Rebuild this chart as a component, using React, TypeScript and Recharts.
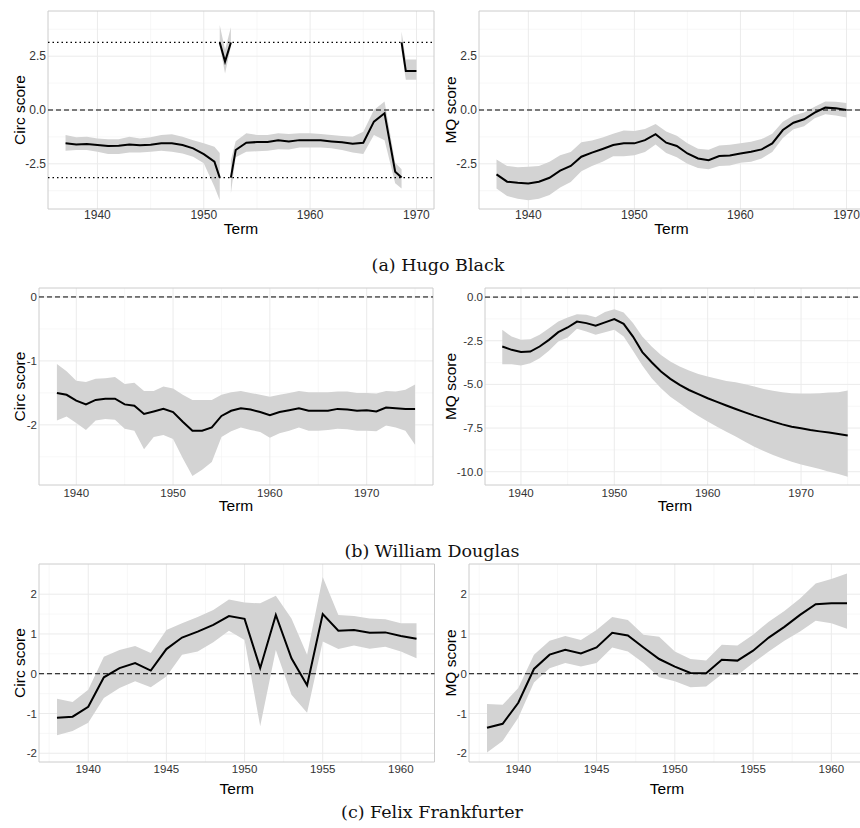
import React from "react";
import {
  ComposedChart,
  Area,
  Line,
  XAxis,
  YAxis,
  CartesianGrid,
  ReferenceLine,
  ReferenceArea,
} from "recharts";

// (a) Hugo Black, circular score. null rows break the path where it wraps at +/- pi
const blackCircTerm = [
  1937, 1938, 1939, 1940, 1941, 1942, 1943, 1944, 1945, 1946, 1947, 1948, 1949, 1950, 1951,
  1951.5, 1951.5, 1951.5, 1952, 1952.55, 1952.55, 1952.55,
  1953, 1954, 1955, 1956, 1957, 1958, 1959, 1960, 1961, 1962, 1963, 1964, 1965, 1966, 1967, 1968,
  1968.6, 1968.6, 1968.6, 1969, 1970,
];
const blackCircEst = [
  -1.55, -1.6, -1.58, -1.63, -1.67, -1.66, -1.6, -1.64, -1.61, -1.55, -1.55, -1.63, -1.78, -2.05, -2.4,
  -3.14, null, 3.14, 2.25, 3.14, null, -3.14,
  -1.86, -1.52, -1.49, -1.49, -1.41, -1.46, -1.4, -1.4, -1.41, -1.46, -1.5, -1.57, -1.52, -0.54, -0.15, -2.87,
  -3.14, null, 3.14, 1.81, 1.81,
];
const blackCircLo = [
  -1.89, -1.86, -1.86, -1.94, -2.05, -2.05, -1.98, -1.98, -1.94, -1.89, -1.94, -2.02, -2.17, -2.48, -3.57,
  -4.19, null, 3.0, 1.7, 2.95, null, -3.88,
  -2.2, -1.94, -1.92, -1.89, -1.82, -1.84, -1.74, -1.74, -1.74, -1.78, -1.86, -1.98, -2.05, -1.16, -1.4, -3.4,
  -3.65, null, 2.75, 1.4, 1.4,
];
const blackCircHi = [
  -1.16, -1.27, -1.24, -1.32, -1.36, -1.36, -1.24, -1.32, -1.27, -1.16, -1.13, -1.24, -1.4, -1.55, -1.71,
  -2.0, null, 3.95, 2.8, 3.85, null, -2.33,
  -1.45, -1.08, -1.16, -1.16, -1.08, -1.11, -1.08, -1.08, -1.11, -1.16, -1.21, -1.24, -1.01, 0.0, 0.39, -2.45,
  -2.75, null, 3.65, 2.35, 2.35,
];

// (a) Hugo Black, MQ score
const blackMqTerm = [
  1937, 1938, 1939, 1940, 1941, 1942, 1943, 1944, 1945, 1946, 1947, 1948, 1949, 1950, 1951, 1952, 1953,
  1954, 1955, 1956, 1957, 1958, 1959, 1960, 1961, 1962, 1963, 1964, 1965, 1966, 1967, 1968, 1969, 1970,
];
const blackMqEst = [
  -2.99, -3.33, -3.38, -3.41, -3.33, -3.15, -2.82, -2.6, -2.17, -1.98, -1.81, -1.63, -1.55, -1.55, -1.4, -1.12, -1.52,
  -1.67, -2.02, -2.25, -2.33, -2.14, -2.11, -2.02, -1.94, -1.83, -1.55, -0.93, -0.59, -0.43, -0.12, 0.11, 0.08, 0.0,
];
const blackMqLo = [
  -3.65, -4.0, -4.12, -4.19, -4.12, -3.95, -3.6, -3.35, -2.85, -2.6, -2.4, -2.15, -2.15, -2.1, -1.95, -1.6, -2.0,
  -2.2, -2.5, -2.7, -2.75, -2.6, -2.58, -2.45, -2.4, -2.25, -1.95, -1.3, -0.9, -0.75, -0.38, -0.2, -0.25, -0.35,
];
const blackMqHi = [
  -2.3, -2.6, -2.66, -2.64, -2.6, -2.4, -2.1, -1.95, -1.5, -1.42, -1.28, -1.1, -0.95, -0.98, -0.88, -0.65, -1.0,
  -1.2, -1.55, -1.8, -1.85, -1.65, -1.62, -1.55, -1.48, -1.35, -1.1, -0.55, -0.25, -0.12, 0.15, 0.4, 0.38, 0.32,
];

// (b) William Douglas
const douglasTerm = [
  1938, 1939, 1940, 1941, 1942, 1943, 1944, 1945, 1946, 1947, 1948, 1949, 1950, 1951, 1952, 1953, 1954, 1955, 1956,
  1957, 1958, 1959, 1960, 1961, 1962, 1963, 1964, 1965, 1966, 1967, 1968, 1969, 1970, 1971, 1972, 1973, 1974, 1975,
];
const douglasCircEst = [
  -1.5, -1.53, -1.62, -1.68, -1.61, -1.59, -1.59, -1.68, -1.7, -1.83, -1.79, -1.75, -1.8, -1.95, -2.09, -2.09, -2.04, -1.86, -1.78,
  -1.74, -1.76, -1.8, -1.85, -1.8, -1.77, -1.74, -1.78, -1.78, -1.78, -1.75, -1.76, -1.78, -1.77, -1.79, -1.73, -1.74, -1.75, -1.75,
];
const douglasCircLo = [
  -1.93, -1.87, -1.97, -2.08, -1.93, -1.91, -1.92, -2.06, -2.09, -2.38, -2.19, -2.16, -2.22, -2.52, -2.8, -2.7, -2.58, -2.19, -2.1,
  -2.04, -2.08, -2.11, -2.2, -2.13, -2.09, -2.04, -2.09, -2.09, -2.08, -2.06, -2.07, -2.09, -2.09, -2.1, -2.01, -2.04, -2.09, -2.31,
];
const douglasCircHi = [
  -1.05, -1.16, -1.31, -1.33, -1.28, -1.27, -1.25, -1.36, -1.34, -1.47, -1.47, -1.4, -1.43, -1.53, -1.61, -1.61, -1.61, -1.53, -1.49,
  -1.47, -1.5, -1.53, -1.56, -1.53, -1.5, -1.47, -1.49, -1.49, -1.49, -1.48, -1.48, -1.5, -1.5, -1.51, -1.47, -1.48, -1.45, -1.37,
];
const douglasMqEst = [
  -2.83, -3.02, -3.15, -3.12, -2.83, -2.45, -2.01, -1.74, -1.4, -1.49, -1.64, -1.45, -1.26, -1.53, -2.26, -3.15, -3.73, -4.26, -4.68,
  -5.03, -5.32, -5.56, -5.79, -6.0, -6.21, -6.41, -6.6, -6.79, -6.96, -7.13, -7.29, -7.42, -7.51, -7.61, -7.69, -7.76, -7.84, -7.92,
];
const douglasMqLo = [
  -3.84, -3.84, -3.92, -3.79, -3.5, -3.08, -2.54, -2.31, -1.82, -1.97, -2.16, -2.01, -1.87, -2.26, -3.08, -3.92, -4.65, -5.22, -5.7,
  -6.08, -6.46, -6.81, -7.13, -7.42, -7.71, -7.99, -8.28, -8.57, -8.81, -9.04, -9.24, -9.43, -9.58, -9.71, -9.85, -10.0, -10.13, -10.29,
];
const douglasMqHi = [
  -1.87, -2.26, -2.45, -2.41, -2.16, -1.78, -1.4, -1.17, -0.98, -1.01, -1.15, -0.86, -0.69, -0.88, -1.49, -2.26, -2.83, -3.31, -3.69,
  -3.98, -4.21, -4.4, -4.55, -4.68, -4.8, -4.88, -4.99, -5.12, -5.26, -5.37, -5.45, -5.5, -5.52, -5.52, -5.5, -5.47, -5.45, -5.35,
];

// (c) Felix Frankfurter
const frankTerm = [
  1938, 1939, 1940, 1941, 1942, 1943, 1944, 1945, 1946, 1947, 1948, 1949,
  1950, 1951, 1952, 1953, 1954, 1955, 1956, 1957, 1958, 1959, 1960, 1961,
];
const frankCircEst = [
  -1.11, -1.08, -0.83, -0.09, 0.14, 0.27, 0.08, 0.62, 0.91, 1.06, 1.23, 1.45,
  1.38, 0.14, 1.48, 0.39, -0.29, 1.5, 1.08, 1.1, 1.03, 1.04, 0.95, 0.88,
];
const frankCircLo = [
  -1.55, -1.44, -1.23, -0.61, -0.36, -0.19, -0.34, -0.07, 0.48, 0.56, 0.79, 1.08,
  0.85, -1.32, 0.6, -0.53, -0.98, 0.81, 0.62, 0.71, 0.63, 0.68, 0.56, 0.39,
];
const frankCircHi = [
  -0.63, -0.71, -0.4, 0.43, 0.6, 0.7, 0.52, 1.1, 1.27, 1.43, 1.6, 1.87,
  1.79, 1.77, 1.96, 1.39, 0.48, 2.43, 1.48, 1.45, 1.39, 1.37, 1.27, 1.27,
];
const frankMqEst = [
  -1.36, -1.26, -0.73, 0.12, 0.48, 0.6, 0.51, 0.66, 1.03, 0.96, 0.66, 0.37,
  0.18, 0.02, 0.01, 0.35, 0.33, 0.58, 0.91, 1.18, 1.48, 1.75, 1.77, 1.77,
];
const frankMqLo = [
  -1.98, -1.69, -1.11, -0.22, 0.14, 0.27, 0.18, 0.27, 0.66, 0.56, 0.27, -0.09,
  -0.19, -0.34, -0.32, -0.01, -0.04, 0.27, 0.56, 0.83, 1.06, 1.33, 1.27, 1.13,
];
const frankMqHi = [
  -0.76, -0.78, -0.36, 0.48, 0.83, 0.95, 0.85, 1.1, 1.43, 1.35, 0.98, 0.93,
  0.56, 0.37, 0.33, 0.73, 0.71, 0.98, 1.31, 1.58, 1.89, 2.27, 2.38, 2.52,
];

// axis ticks (major) and minor grid positions
const decadeTicks = [1940, 1950, 1960, 1970];
const decadeMinor = [1945, 1955, 1965, 1975];
const fiveYearTicks = [1940, 1945, 1950, 1955, 1960];
const fiveYearMinor = [1937.5, 1942.5, 1947.5, 1952.5, 1957.5, 1962.5];
const blackYTicks = [-2.5, 0, 2.5];
const blackYMinor = [-3.75, -1.25, 1.25, 3.75];
const douglasCircYTicks = [-2, -1, 0];
const douglasCircYMinor = [-2.5, -1.5, -0.5];
const douglasMqYTicks = [-10, -7.5, -5, -2.5, 0];
const douglasMqYMinor = [-8.75, -6.25, -3.75, -1.25];
const frankYTicks = [-2, -1, 0, 1, 2];
const frankYMinor = [-1.5, -0.5, 0.5, 1.5];
const circBounds = [Math.PI, -Math.PI];

const SANS = "'Liberation Sans', Arial, Helvetica, sans-serif";

const toRows = (term, est, lo, hi) =>
  term.map((t, i) => ({
    term: t,
    est: est[i],
    band: lo[i] == null || hi[i] == null ? null : [lo[i], hi[i]],
  }));

const fmt1 = (v: number) => v.toFixed(1);
const fmt0 = (v: number) => String(v);

const Panel = ({ p }) => {
  const g = p.g;
  const tickStyle = { fontSize: g.tickFont, fill: "#333", fontFamily: SANS };
  const titleStyle = { fontSize: 15.5, fontFamily: SANS, fill: "#000" };
  return (
    <div style={{ position: "absolute", left: g.left, top: g.top }}>
      <ComposedChart
        width={g.width}
        height={g.height}
        data={p.rows}
        margin={{ top: 4, right: g.mr, bottom: 0, left: g.ml }}
      >
        <CartesianGrid
          horizontalValues={p.yMinor}
          verticalValues={p.xMinor}
          stroke="#f2f2f2"
          strokeWidth={0.6}
        />
        <CartesianGrid
          horizontalValues={p.yTicks}
          verticalValues={p.xTicks}
          stroke="#ebebeb"
          strokeWidth={1}
        />
        <XAxis
          type="number"
          dataKey="term"
          domain={p.xDomain}
          ticks={p.xTicks}
          interval={0}
          allowDataOverflow
          axisLine={false}
          tickLine={false}
          tickSize={g.xTick}
          tickMargin={0}
          height={g.xHeight}
          tick={tickStyle}
          label={{ value: "Term", position: "center", ...titleStyle, style: titleStyle }}
        />
        <YAxis
          type="number"
          domain={p.yDomain}
          ticks={p.yTicks}
          interval={0}
          allowDataOverflow
          axisLine={false}
          tickLine={false}
          tickSize={2}
          tickMargin={0}
          width={g.yWidth}
          tickFormatter={p.yFmt}
          tick={tickStyle}
          label={{
            value: p.yLabel,
            angle: -90,
            position: "insideLeft",
            offset: g.titleOffset,
            ...titleStyle,
            style: { ...titleStyle, textAnchor: "middle" },
          }}
        />
        <Area
          type="linear"
          dataKey="band"
          fill="#d3d3d3"
          fillOpacity={1}
          stroke="none"
          activeDot={false}
          isAnimationActive={false}
        />
        <Line
          type="linear"
          dataKey="est"
          stroke="#000"
          strokeWidth={2}
          dot={false}
          activeDot={false}
          isAnimationActive={false}
        />
        <ReferenceLine y={0} stroke="#000" strokeWidth={1} strokeDasharray="5 3" />
        {(p.dotted || []).map((v) => (
          <ReferenceLine key={v} y={v} stroke="#000" strokeWidth={1.2} strokeDasharray="1.5 3" />
        ))}
        <ReferenceArea
          x1={p.xDomain[0]}
          x2={p.xDomain[1]}
          y1={p.yDomain[0]}
          y2={p.yDomain[1]}
          fill="none"
          stroke="#cccccc"
          strokeWidth={1}
        />
      </ComposedChart>
    </div>
  );
};

const panels = [
  {
    rows: toRows(blackCircTerm, blackCircEst, blackCircLo, blackCircHi),
    xDomain: [1935.35, 1971.65], xTicks: decadeTicks, xMinor: decadeMinor,
    yDomain: [-4.6, 4.6], yTicks: blackYTicks, yMinor: blackYMinor, yFmt: fmt1,
    yLabel: "Circ score", dotted: circBounds,
    g: { left: 0, top: 7, width: 436, height: 240, ml: 18, mr: 2, yWidth: 30, xHeight: 38, titleOffset: 1, xTick: 1.5, tickFont: 12 },
  },
  {
    rows: toRows(blackMqTerm, blackMqEst, blackMqLo, blackMqHi),
    xDomain: [1935.35, 1971.65], xTicks: decadeTicks, xMinor: decadeMinor,
    yDomain: [-4.6, 4.6], yTicks: blackYTicks, yMinor: blackYMinor, yFmt: fmt1,
    yLabel: "MQ score",
    g: { left: 400, top: 7, width: 468, height: 240, ml: 39, mr: 4, yWidth: 40, xHeight: 38, titleOffset: 11, xTick: 1.5, tickFont: 12 },
  },
  {
    rows: toRows(douglasTerm, douglasCircEst, douglasCircLo, douglasCircHi),
    xDomain: [1936.15, 1976.85], xTicks: decadeTicks, xMinor: decadeMinor,
    yDomain: [-2.94, 0.14], yTicks: douglasCircYTicks, yMinor: douglasCircYMinor, yFmt: fmt0,
    yLabel: "Circ score",
    g: { left: 0, top: 284, width: 435, height: 241, ml: 9, mr: 2, yWidth: 30, xHeight: 40, titleOffset: 10, xTick: 3.5, tickFont: 11.5 },
  },
  {
    rows: toRows(douglasTerm, douglasMqEst, douglasMqLo, douglasMqHi),
    xDomain: [1936.15, 1976.85], xTicks: decadeTicks, xMinor: decadeMinor,
    yDomain: [-10.76, 0.52], yTicks: douglasMqYTicks, yMinor: douglasMqYMinor, yFmt: fmt1,
    yLabel: "MQ score",
    g: { left: 400, top: 284, width: 468, height: 241, ml: 45, mr: 3, yWidth: 40, xHeight: 40, titleOffset: 5, xTick: 3.5, tickFont: 11.5 },
  },
  {
    rows: toRows(frankTerm, frankCircEst, frankCircLo, frankCircHi),
    xDomain: [1936.85, 1962.15], xTicks: fiveYearTicks, xMinor: fiveYearMinor,
    yDomain: [-2.22, 2.76], yTicks: frankYTicks, yMinor: frankYMinor, yFmt: fmt0,
    yLabel: "Circ score",
    g: { left: 0, top: 560, width: 437, height: 254, ml: 9, mr: 2.5, yWidth: 30, xHeight: 52, titleOffset: 10, xTick: 2.5, tickFont: 11.5 },
  },
  {
    rows: toRows(frankTerm, frankMqEst, frankMqLo, frankMqHi),
    xDomain: [1936.85, 1962.15], xTicks: fiveYearTicks, xMinor: fiveYearMinor,
    yDomain: [-2.22, 2.76], yTicks: frankYTicks, yMinor: frankYMinor, yFmt: fmt0,
    yLabel: "MQ score",
    g: { left: 400, top: 560, width: 468, height: 254, ml: 29, mr: 3, yWidth: 40, xHeight: 52, titleOffset: 21, xTick: 2.5, tickFont: 11.5 },
  },
];

const captions = [
  { text: "(a) Hugo Black", x: 438, y: 265 },
  { text: "(b) William Douglas", x: 432, y: 551 },
  { text: "(c) Felix Frankfurter", x: 432, y: 812 },
];

export default function App() {
  return (
    <div
      style={{
        position: "absolute",
        left: 0,
        top: 0,
        width: 860,
        height: 828,
        overflow: "hidden",
        background: "#fff",
        fontFamily: SANS,
      }}
    >
      {panels.map((p, i) => (
        <Panel key={i} p={p} />
      ))}
      {captions.map((c) => (
        <div
          key={c.text}
          style={{
            position: "absolute",
            left: c.x,
            top: c.y,
            transform: "translate(-50%, -50%)",
            whiteSpace: "nowrap",
            fontFamily: "'DejaVu Serif', serif",
            fontSize: 17.5,
            color: "#111",
          }}
        >
          {c.text}
        </div>
      ))}
    </div>
  );
}
